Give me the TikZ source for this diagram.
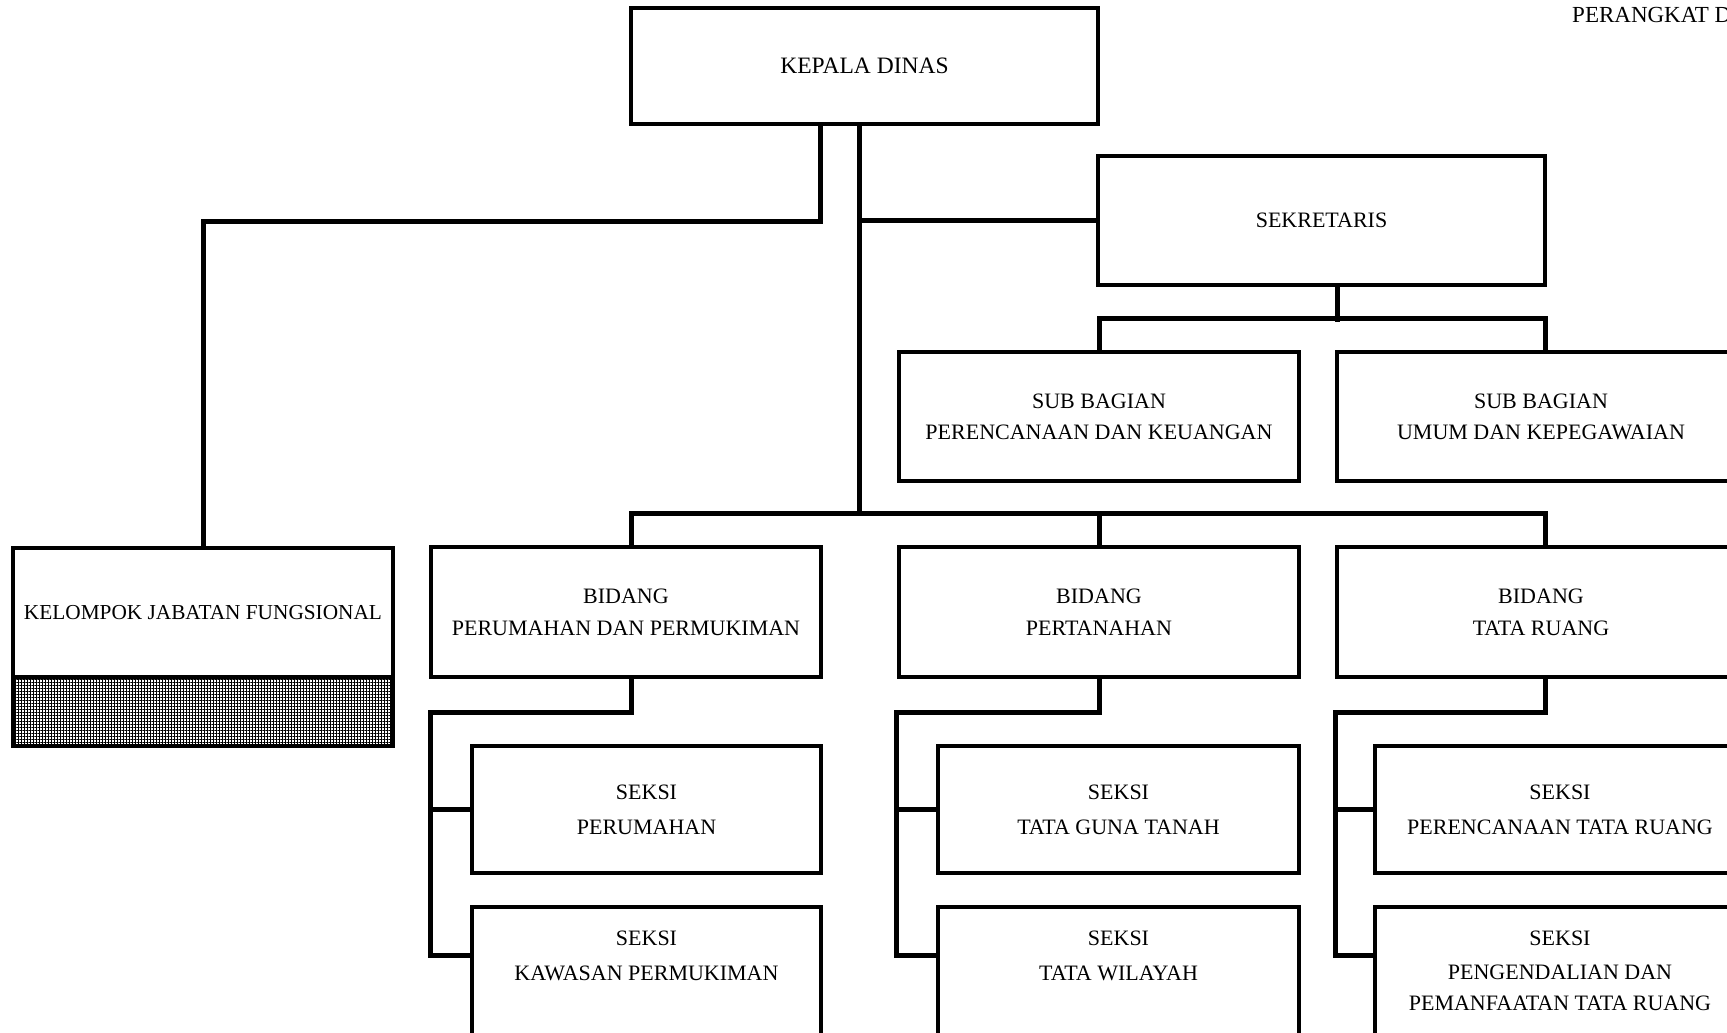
\documentclass[tikz,border=0pt]{standalone}
\usepackage{fontspec}
\setmainfont{Liberation Serif}
\usetikzlibrary{patterns.meta}
\begin{document}
\begin{tikzpicture}[x=1pt,y=-1pt,
  box/.style={draw, rectangle, line width=3.3pt, inner sep=0pt, align=center,
    font=\fontsize{22}{31}\selectfont},
  txt/.style={inner sep=0pt, align=center, font=\fontsize{22}{31}\selectfont},
  conn/.style={line width=5pt},
]
\useasboundingbox (0,0) rectangle (1727,1033);
\clip (0,0) rectangle (1727,1033);

% heading
\node[anchor=base west, inner sep=0pt, font=\fontsize{23}{28}\selectfont] (hdr) at (1572,23) {PERANGKAT D};

% top level
\node[box, minimum width=467, minimum height=116, font=\fontsize{23.5}{31}\selectfont] (kepala) at (864.5,66) {KEPALA DINAS};
\node[box, minimum width=447, minimum height=129] (sekretaris) at (1321.5,220.5) {SEKRETARIS};

% sub bagian
\node[box, minimum width=400, minimum height=129] (subA) at (1099,416.5) {SUB BAGIAN\\PERENCANAAN DAN KEUANGAN};
\node[box, minimum width=408, minimum height=129] (subB) at (1541,416.5) {SUB BAGIAN\\UMUM DAN KEPEGAWAIAN};

% kelompok jabatan fungsional
\node[box, minimum width=380, minimum height=129, font=\fontsize{21.3}{31}\selectfont] (kelompok) at (203,612.5) {KELOMPOK JABATAN FUNGSIONAL};
\node[box, minimum width=380, minimum height=69,
  pattern={Hatch[angle=0,distance=3pt,line width=0.5pt]}] (kjshade) at (203,711.5) {};

% bidang
\node[box, minimum width=390, minimum height=130] (bidA) at (626,612) {BIDANG\\[1pt]PERUMAHAN DAN PERMUKIMAN};
\node[box, minimum width=400, minimum height=130] (bidB) at (1099,612) {BIDANG\\[1pt]PERTANAHAN};
\node[box, minimum width=408, minimum height=130] (bidC) at (1541,612) {BIDANG\\[1pt]TATA RUANG};

% seksi, first row
\node[box, minimum width=349, minimum height=127] (sA1) at (646.5,809.5) {SEKSI\\[4pt]PERUMAHAN};
\node[box, minimum width=361, minimum height=127] (sB1) at (1118.5,809.5) {SEKSI\\[4pt]TATA GUNA TANAH};
\node[box, minimum width=370, minimum height=127] (sC1) at (1560,809.5) {SEKSI\\[4pt]PERENCANAAN TATA RUANG};

% seksi, second row
\node[box, minimum width=349, minimum height=200] (sA2) at (646.5,1007) {};
\node[box, minimum width=361, minimum height=200] (sB2) at (1118.5,1007) {};
\node[box, minimum width=370, minimum height=200] (sC2) at (1560,1007) {};
\node[txt] (tA2) at (646.5,955.5) {SEKSI\\[4pt]KAWASAN PERMUKIMAN};
\node[txt] (tB2) at (1118.5,955.5) {SEKSI\\[4pt]TATA WILAYAH};
\node[txt] (tC2) at (1560,971) {SEKSI\\[3pt]PENGENDALIAN DAN\\PEMANFAATAN TATA RUANG};

% connector levels
\coordinate (yK) at (0,221);
\coordinate (yBus) at (0,516);
\coordinate (kL) at ([xshift=-44.5pt]kepala.south);
\coordinate (kR) at ([xshift=-5.5pt]kepala.south);

% kepala dinas to kelompok and to the bidang bus
\draw[conn] (kL) -- (kL |- yK) -| (kelompok.north);
\draw[conn] (kR) -- (kR |- yBus);
\draw[conn] (kR |- sekretaris.west) -- (sekretaris.west);

% sekretaris to sub bagian
\draw[conn] ([xshift=15.5pt]sekretaris.south) -- ++(0,35);
\draw[conn] (subA.north) -- ++(0,-32) -| ([xshift=4pt]subB.north);

% bidang bus
\draw[conn] ([xshift=5pt]bidA.north) -- ++(0,-32) -| ([xshift=4pt]bidC.north);
\draw[conn] (bidB.north) -- (bidB.north |- yBus);

% bidang to seksi
\draw[conn] ([xshift=5pt]bidA.south) -- ++(0,34) -| ([xshift=-40pt]sA1.west)
  |- ([yshift=-50pt]sA2.north west);
\draw[conn] ([xshift=-40pt]sA1.west) -- (sA1.west);

\draw[conn] (bidB.south) -- ++(0,34) -| ([xshift=-40pt]sB1.west)
  |- ([yshift=-50pt]sB2.north west);
\draw[conn] ([xshift=-40pt]sB1.west) -- (sB1.west);

\draw[conn] ([xshift=4pt]bidC.south) -- ++(0,34) -| ([xshift=-38pt]sC1.west)
  |- ([yshift=-50pt]sC2.north west);
\draw[conn] ([xshift=-38pt]sC1.west) -- (sC1.west);
\end{tikzpicture}
\end{document}
